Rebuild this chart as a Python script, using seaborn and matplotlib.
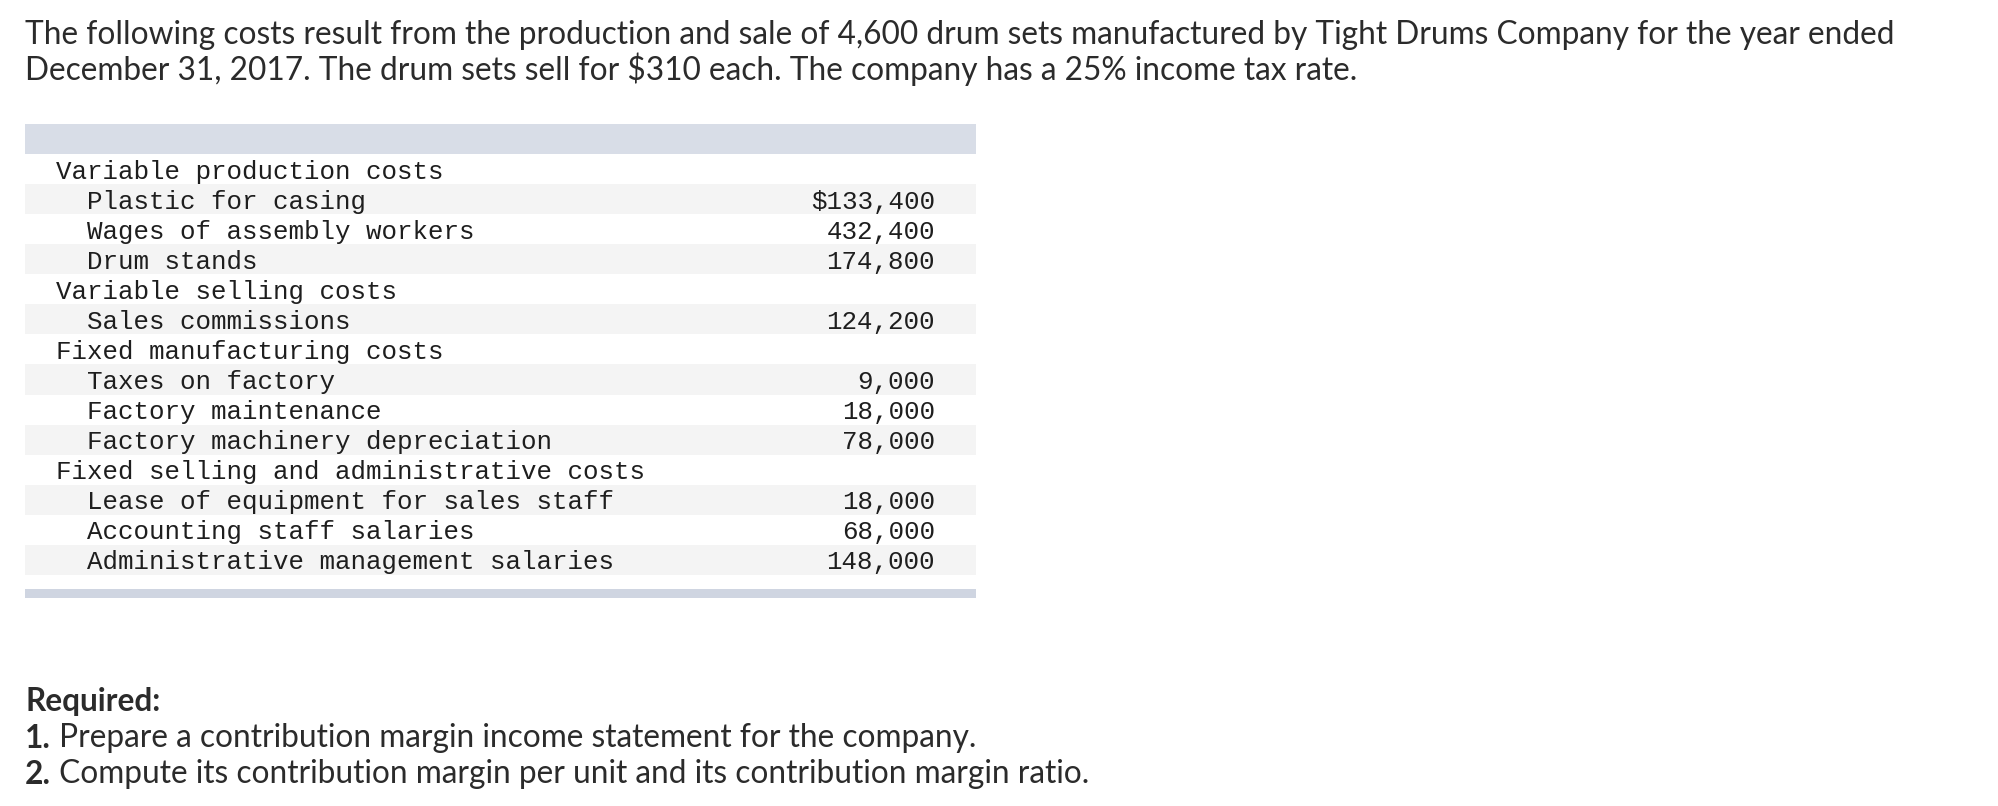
import matplotlib
matplotlib.use("Agg")
import matplotlib.pyplot as plt
import seaborn as sns

# ==== Data ====
intro_lines = [
    "The following costs result from the production and sale of 4,600 drum sets manufactured by Tight Drums Company for the year ended",
    "December 31, 2017. The drum sets sell for $310 each. The company has a 25% income tax rate.",
]
row_labels = [
    "Variable production costs", "Plastic for casing", "Wages of assembly workers", "Drum stands",
    "Variable selling costs", "Sales commissions",
    "Fixed manufacturing costs", "Taxes on factory", "Factory maintenance", "Factory machinery depreciation",
    "Fixed selling and administrative costs", "Lease of equipment for sales staff",
    "Accounting staff salaries", "Administrative management salaries",
]
row_indent = [0, 1, 1, 1, 0, 1, 0, 1, 1, 1, 0, 1, 1, 1]
row_values = ["", "$133,400", "432,400", "174,800", "", "124,200", "",
              "9,000", "18,000", "78,000", "", "18,000", "68,000", "148,000"]
required_head = "Required:"
required_nums = ["1.", "2."]
required_items = [
    " Prepare a contribution margin income statement for the company.",
    " Compute its contribution margin per unit and its contribution margin ratio.",
]

# ==== Figure ====
sns.set_theme(style="white")
plt.rcParams["font.family"] = ["Lato", "DejaVu Sans"]

W, H = 1998, 806
fig = plt.figure(figsize=(W / 100, H / 100), dpi=100)
ax = fig.add_axes([0, 0, 1, 1])
ax.set_xlim(0, W)
ax.set_ylim(H, 0)
ax.axis("off")

text_color = "#2b2b2b"
sans = ["Lato", "DejaVu Sans"]
mono = ["Liberation Mono", "DejaVu Sans Mono"]

# fit paragraph font size to the width of the first line
renderer = fig.canvas.get_renderer()
probe = ax.text(25, 32, intro_lines[0], fontsize=20, family=sans, va="center")
w = probe.get_window_extent(renderer).width
fs = 20 * (1874 / w)
probe.remove()

for i, line in enumerate(intro_lines):
    ax.text(25, 35 + 34 * i, line, fontsize=fs, family=sans, va="center", color=text_color)

# ==== Table ====
left, right = 25, 976
row0, step = 169, 30.07
ax.axhspan(124, 154, xmin=left / W, xmax=right / W, color="#d8dde7", lw=0)
for i, (lab, ind, val) in enumerate(zip(row_labels, row_indent, row_values)):
    yc = row0 + step * i
    if i % 2 == 1:
        ax.axhspan(yc - step / 2, yc + step / 2, xmin=left / W, xmax=right / W, color="#f4f4f4", lw=0)
    ax.text(56 + 31 * ind, yc + 2.5, lab, fontsize=18.6, family=mono, va="center", color="#1e1e1e")
    if val:
        ax.text(935, yc + 2.5, val, fontsize=18.6, family=mono, va="center", ha="right", color="#1e1e1e")
ax.axhspan(589, 598, xmin=left / W, xmax=right / W, color="#cfd5e1", lw=0)

# ==== Required ====
ax.text(25, 701, required_head, fontsize=fs, family=sans, fontweight="bold", va="center", color=text_color)
for i, (num, item) in enumerate(zip(required_nums, required_items)):
    y = 738 + 36 * i
    t = ax.text(25, y, num, fontsize=fs, family=sans, fontweight="bold", va="center", color=text_color)
    x2 = ax.transData.inverted().transform(
        (t.get_window_extent(renderer).x1, 0))[0]
    ax.text(x2, y, item, fontsize=fs, family=sans, va="center", color=text_color)

fig.savefig("out.png", dpi=100, facecolor="white")
